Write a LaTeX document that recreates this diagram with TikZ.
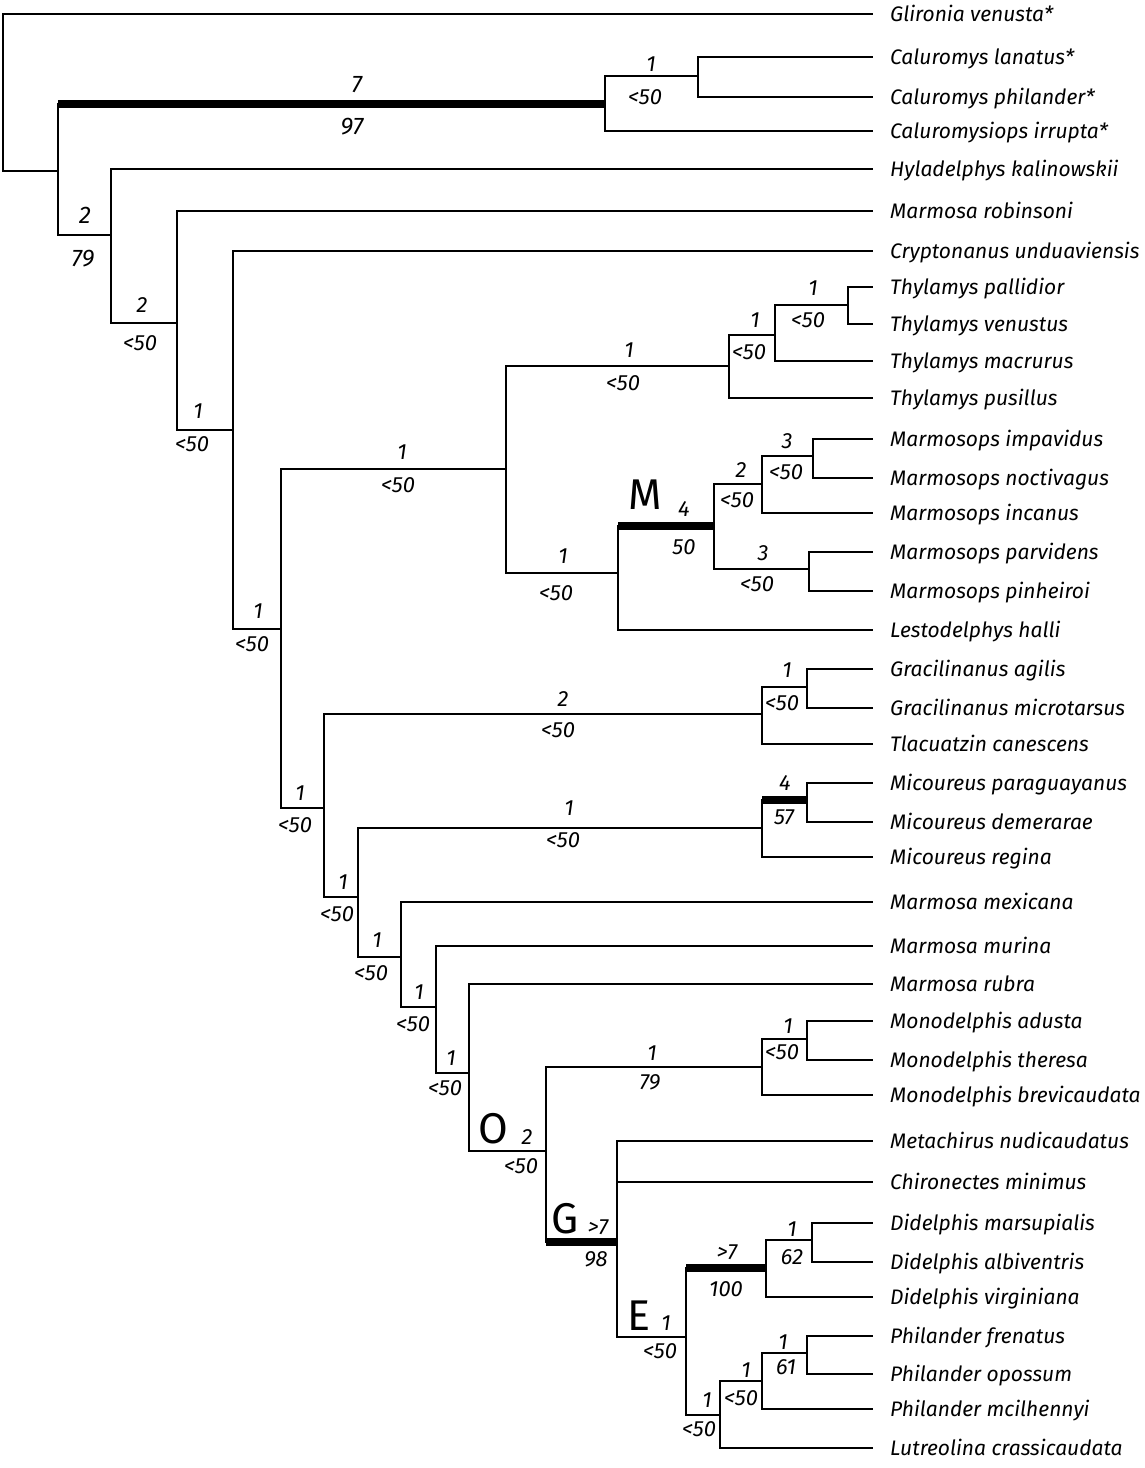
\documentclass[tikz,border=0pt]{standalone}
\usepackage{fontspec}
\setmainfont{Fira Sans}

\tikzset{
  branch/.style={line width=2pt},
  strongbranch/.style={line width=8pt},
  taxon/.style={anchor=base west, inner sep=0pt, font=\fontsize{21}{24}\selectfont\itshape},
  supp/.style={inner sep=0pt, font=\fontsize{22}{24}\selectfont\itshape},
  suppbig/.style={inner sep=0pt, font=\fontsize{24}{27}\selectfont\itshape},
  cladename/.style={inner sep=0pt, font=\fontsize{43}{46}\selectfont},
}

\begin{document}
\begin{tikzpicture}[x=1pt, y=-1pt]
  \useasboundingbox (0,0) rectangle (1144,1468);

  % tips and taxon names
  \foreach \n/\y/\t in {
      glironia/14/{Glironia venusta*},
      lanatus/57/{Caluromys lanatus*},
      philander/97/{Caluromys philander*},
      irrupta/131/{Caluromysiops irrupta*},
      hyladelphys/169/{Hyladelphys kalinowskii},
      robinsoni/211/{Marmosa robinsoni},
      cryptonanus/251/{Cryptonanus unduaviensis},
      pallidior/287/{Thylamys pallidior},
      venustus/324/{Thylamys venustus},
      macrurus/361/{Thylamys macrurus},
      pusillus/398/{Thylamys pusillus},
      impavidus/439/{Marmosops impavidus},
      noctivagus/478/{Marmosops noctivagus},
      incanus/513/{Marmosops incanus},
      parvidens/552/{Marmosops parvidens},
      pinheiroi/591/{Marmosops pinheiroi},
      halli/630/{Lestodelphys halli},
      agilis/669/{Gracilinanus agilis},
      microtarsus/708/{Gracilinanus microtarsus},
      tlacuatzin/744/{Tlacuatzin canescens},
      paraguayanus/783/{Micoureus paraguayanus},
      demerarae/822/{Micoureus demerarae},
      regina/857/{Micoureus regina},
      mexicana/902/{Marmosa mexicana},
      murina/946/{Marmosa murina},
      rubra/984/{Marmosa rubra},
      adusta/1021/{Monodelphis adusta},
      theresa/1060/{Monodelphis theresa},
      brevicaudata/1095/{Monodelphis brevicaudata},
      metachirus/1141/{Metachirus nudicaudatus},
      chironectes/1182/{Chironectes minimus},
      marsupialis/1223/{Didelphis marsupialis},
      albiventris/1262/{Didelphis albiventris},
      virginiana/1297/{Didelphis virginiana},
      frenatus/1336/{Philander frenatus},
      opossum/1374/{Philander opossum},
      mcilhennyi/1409/{Philander mcilhennyi},
      lutreolina/1448/{Lutreolina crassicaudata}} {
    \coordinate (\n) at (873,\y);
    \node[taxon] (\n-name) at (890,\y+7) {\t};
  }

  % internal nodes
  \coordinate (root) at (3,92);
  \coordinate (nA) at (58,171);
  \coordinate (cal) at (605,104);
  \coordinate (calA) at (698,76);
  \coordinate (nB) at (111,235);
  \coordinate (nC) at (177,323);
  \coordinate (nD) at (233,430);
  \coordinate (nE) at (281,629);
  \coordinate (nF) at (506,469);
  \coordinate (thy) at (729,366);
  \coordinate (thyA) at (775,335);
  \coordinate (thyB) at (848,305);
  \coordinate (nM) at (618,573);
  \coordinate (mos) at (714,526);
  \coordinate (mosA) at (762,484);
  \coordinate (mosC) at (813,456);
  \coordinate (mosB) at (809,569);
  \coordinate (nG) at (324,808);
  \coordinate (gra) at (762,714);
  \coordinate (graA) at (807,687);
  \coordinate (nH) at (358,897);
  \coordinate (mic) at (762,828);
  \coordinate (micA) at (807,800);
  \coordinate (nI) at (401,957);
  \coordinate (nJ) at (436,1007);
  \coordinate (nK) at (469,1073);
  \coordinate (nL) at (546,1151);
  \coordinate (mon) at (762,1067);
  \coordinate (monA) at (807,1039);
  \coordinate (nN) at (617,1242);
  \coordinate (nP) at (686,1337);
  \coordinate (did) at (766,1268);
  \coordinate (didA) at (812,1240);
  \coordinate (nQ) at (720,1415);
  \coordinate (phi) at (762,1381);
  \coordinate (phiA) at (807,1353);

  % branches
  \draw[branch] (root) |- (glironia);
  \draw[branch] (root) |- (nA);
  \draw[branch] (nA) |- (cal);
  \draw[strongbranch] (nA |- cal) -- (cal);
  \draw[branch] (cal) |- (calA);
  \draw[branch] (cal) |- (irrupta);
  \draw[branch] (calA) |- (lanatus);
  \draw[branch] (calA) |- (philander);
  \draw[branch] (nA) |- (nB);
  \draw[branch] (nB) |- (hyladelphys);
  \draw[branch] (nB) |- (nC);
  \draw[branch] (nC) |- (robinsoni);
  \draw[branch] (nC) |- (nD);
  \draw[branch] (nD) |- (cryptonanus);
  \draw[branch] (nD) |- (nE);
  \draw[branch] (nE) |- (nF);
  \draw[branch] (nE) |- (nG);

  % Thylamys and Marmosops
  \draw[branch] (nF) |- (thy);
  \draw[branch] (nF) |- (nM);
  \draw[branch] (thy) |- (thyA);
  \draw[branch] (thy) |- (pusillus);
  \draw[branch] (thyA) |- (thyB);
  \draw[branch] (thyA) |- (macrurus);
  \draw[branch] (thyB) |- (pallidior);
  \draw[branch] (thyB) |- (venustus);
  \draw[branch] (nM) |- (mos);
  \draw[strongbranch] (nM |- mos) -- (mos);
  \draw[branch] (nM) |- (halli);
  \draw[branch] (mos) |- (mosA);
  \draw[branch] (mos) |- (mosB);
  \draw[branch] (mosA) |- (mosC);
  \draw[branch] (mosA) |- (incanus);
  \draw[branch] (mosC) |- (impavidus);
  \draw[branch] (mosC) |- (noctivagus);
  \draw[branch] (mosB) |- (parvidens);
  \draw[branch] (mosB) |- (pinheiroi);

  % Gracilinanus, Micoureus, Marmosa
  \draw[branch] (nG) |- (gra);
  \draw[branch] (nG) |- (nH);
  \draw[branch] (gra) |- (graA);
  \draw[branch] (gra) |- (tlacuatzin);
  \draw[branch] (graA) |- (agilis);
  \draw[branch] (graA) |- (microtarsus);
  \draw[branch] (nH) |- (mic);
  \draw[branch] (nH) |- (nI);
  \draw[branch] (mic) |- (micA);
  \draw[strongbranch] (mic |- micA) -- (micA);
  \draw[branch] (mic) |- (regina);
  \draw[branch] (micA) |- (paraguayanus);
  \draw[branch] (micA) |- (demerarae);
  \draw[branch] (nI) |- (mexicana);
  \draw[branch] (nI) |- (nJ);
  \draw[branch] (nJ) |- (murina);
  \draw[branch] (nJ) |- (nK);
  \draw[branch] (nK) |- (rubra);
  \draw[branch] (nK) |- (nL);

  % Monodelphis and Didelphini
  \draw[branch] (nL) |- (mon);
  \draw[branch] (nL) |- (nN);
  \draw[strongbranch] (nL |- nN) -- (nN);
  \draw[branch] (mon) |- (monA);
  \draw[branch] (mon) |- (brevicaudata);
  \draw[branch] (monA) |- (adusta);
  \draw[branch] (monA) |- (theresa);
  \draw[branch] (nN) |- (metachirus);
  \draw[branch] (nN) |- (chironectes);
  \draw[branch] (nN) |- (nP);
  \draw[branch] (nP) |- (did);
  \draw[strongbranch] (nP |- did) -- (did);
  \draw[branch] (nP) |- (nQ);
  \draw[branch] (did) |- (didA);
  \draw[branch] (did) |- (virginiana);
  \draw[branch] (didA) |- (marsupialis);
  \draw[branch] (didA) |- (albiventris);
  \draw[branch] (nQ) |- (phi);
  \draw[branch] (nQ) |- (lutreolina);
  \draw[branch] (phi) |- (phiA);
  \draw[branch] (phi) |- (mcilhennyi);
  \draw[branch] (phiA) |- (frenatus);
  \draw[branch] (phiA) |- (opossum);

  % support values
  \node[suppbig] (cal-u) at (357,85) {7};
  \node[suppbig] (cal-d) at (352,127) {97};
  \node[supp] (calA-u) at (651,64) {1};
  \node[supp] (calA-d) at (645,97) {<50};
  \node[suppbig] (nB-u) at (85,215) {2};
  \node[suppbig] (nB-d) at (83,259) {79};
  \node[supp] (nC-u) at (142,305) {2};
  \node[supp] (nC-d) at (140,343) {<50};
  \node[supp] (nD-u) at (198,411) {1};
  \node[supp] (nD-d) at (192,444) {<50};
  \node[supp] (nE-u) at (258,611) {1};
  \node[supp] (nE-d) at (252,644) {<50};
  \node[supp] (nF-u) at (402,452) {1};
  \node[supp] (nF-d) at (398,485) {<50};
  \node[supp] (thy-u) at (629,350) {1};
  \node[supp] (thy-d) at (623,383) {<50};
  \node[supp] (thyA-u) at (755,320) {1};
  \node[supp] (thyA-d) at (749,352) {<50};
  \node[supp] (thyB-u) at (813,288) {1};
  \node[supp] (thyB-d) at (808,320) {<50};
  \node[supp] (nM-u) at (563,556) {1};
  \node[supp] (nM-d) at (556,593) {<50};
  \node[cladename] (cladeM) at (645,495) {M};
  \node[supp] (mos-u) at (684,509) {4};
  \node[supp] (mos-d) at (684,547) {50};
  \node[supp] (mosA-u) at (741,470) {2};
  \node[supp] (mosA-d) at (737,500) {<50};
  \node[supp] (mosC-u) at (787,441) {3};
  \node[supp] (mosC-d) at (786,472) {<50};
  \node[supp] (mosB-u) at (763,553) {3};
  \node[supp] (mosB-d) at (757,584) {<50};
  \node[supp] (nG-u) at (300,793) {1};
  \node[supp] (nG-d) at (295,825) {<50};
  \node[supp] (gra-u) at (563,699) {2};
  \node[supp] (gra-d) at (558,730) {<50};
  \node[supp] (graA-u) at (787,670) {1};
  \node[supp] (graA-d) at (782,703) {<50};
  \node[supp] (nH-u) at (343,882) {1};
  \node[supp] (nH-d) at (337,914) {<50};
  \node[supp] (mic-u) at (569,808) {1};
  \node[supp] (mic-d) at (563,840) {<50};
  \node[supp] (micA-u) at (785,783) {4};
  \node[supp] (micA-d) at (784,817) {57};
  \node[supp] (nI-u) at (377,940) {1};
  \node[supp] (nI-d) at (371,973) {<50};
  \node[supp] (nJ-u) at (419,992) {1};
  \node[supp] (nJ-d) at (413,1024) {<50};
  \node[supp] (nK-u) at (451,1058) {1};
  \node[supp] (nK-d) at (445,1088) {<50};
  \node[cladename] (cladeO) at (493,1129) {O};
  \node[supp] (nL-u) at (527,1137) {2};
  \node[supp] (nL-d) at (521,1166) {<50};
  \node[supp] (mon-u) at (652,1053) {1};
  \node[supp] (mon-d) at (650,1082) {79};
  \node[supp] (monA-u) at (788,1026) {1};
  \node[supp] (monA-d) at (782,1052) {<50};
  \node[cladename] (cladeG) at (565,1219) {G};
  \node[supp] (nN-u) at (598,1227) {>7};
  \node[supp] (nN-d) at (596,1259) {98};
  \node[cladename] (cladeE) at (639,1316) {E};
  \node[supp] (nP-u) at (666,1323) {1};
  \node[supp] (nP-d) at (660,1351) {<50};
  \node[supp] (did-u) at (727,1252) {>7};
  \node[supp] (did-d) at (726,1289) {100};
  \node[supp] (didA-u) at (792,1229) {1};
  \node[supp] (didA-d) at (792,1257) {62};
  \node[supp] (nQ-u) at (707,1400) {1};
  \node[supp] (nQ-d) at (699,1429) {<50};
  \node[supp] (phi-u) at (746,1370) {1};
  \node[supp] (phi-d) at (741,1398) {<50};
  \node[supp] (phiA-u) at (783,1342) {1};
  \node[supp] (phiA-d) at (786,1367) {61};
\end{tikzpicture}
\end{document}
